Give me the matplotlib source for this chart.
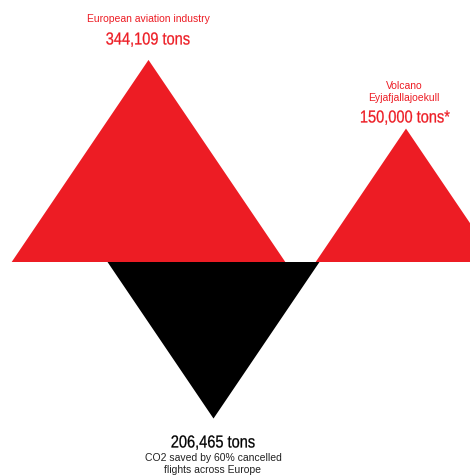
import numpy as np
import matplotlib.pyplot as plt
from matplotlib.patches import Polygon
from matplotlib.patheffects import AbstractPathEffect
from matplotlib.transforms import Affine2D

# values (tons of CO2)
labels = ["European aviation industry", "CO2 saved by 60% cancelled\nflights across Europe", "Volcano\nEyjafjallajoekull"]
values = [344109, 206465, 150000]
value_texts = ["344,109 tons", "206,465 tons", "150,000 tons*"]
directions = [1, -1, 1]   # up / down
colors = ["#ED1C24", "#000000", "#ED1C24"]

# layout (pixel coords, y down)
W, H = 470, 476
baseline = 262
centers = [148.5, 213.5, 406]
k = 0.3445          # height per sqrt(ton): triangle area ~ value
half_ratio = 0.677  # half base width / height

fig = plt.figure(figsize=(W / 100, H / 100), dpi=100)
ax = fig.add_axes([0, 0, 1, 1])
ax.set_xlim(0, W)
ax.set_ylim(H, 0)
ax.axis("off")

for v, d, c, cx in zip(values, directions, colors, centers):
    h = k * np.sqrt(v)
    hw = half_ratio * h
    tri = Polygon([(cx - hw, baseline), (cx + hw, baseline), (cx, baseline - d * h)],
                  closed=True, facecolor=c, edgecolor="none", antialiased=True)
    ax.add_patch(tri)


class Condense(AbstractPathEffect):
    """squeeze glyphs horizontally around the text's anchor (fake condensed face),
    with a thin stroke so it reads a bit heavier"""
    def __init__(self, sx, x, y, stroke=0.18):
        super().__init__()
        self.sx, self.x, self.y, self.stroke = sx, x, y, stroke

    def draw_path(self, renderer, gc, tpath, affine, rgbFace=None):
        cx = ax.transData.transform((self.x, self.y))[0]
        squeeze = Affine2D().translate(-cx, 0).scale(self.sx, 1).translate(cx, 0)
        gc0 = renderer.new_gc()
        gc0.copy_properties(gc)
        gc0.set_linewidth(self.stroke)
        gc0.set_foreground(rgbFace)
        renderer.draw_path(gc0, tpath, affine + squeeze, rgbFace)
        gc0.restore()


regular = ["Liberation Sans", "DejaVu Sans"]
red = colors[0]


def big(x, y, s, color):
    ax.text(x, y, s, color=color, fontsize=12.5, family=regular, ha="center", va="center",
            path_effects=[Condense(0.84, x, y)])


def small(x, y, s, color):
    ax.text(x, y, s, color=color, fontsize=7.5, family=regular, ha="center", va="center")


# European aviation
small(148, 19, labels[0], red)
big(148, 40, value_texts[0], red)

# volcano
small(404, 86, "Volcano", red)
small(404, 98, "Eyjafjallajoekull", red)
big(405, 118, value_texts[2], red)

# saved
big(213, 443, value_texts[1], "black")
small(213, 458, "CO2 saved by 60% cancelled", "#222222")
small(213, 470, "flights across Europe", "#222222")

fig.savefig("out.png", dpi=100, facecolor="white")
